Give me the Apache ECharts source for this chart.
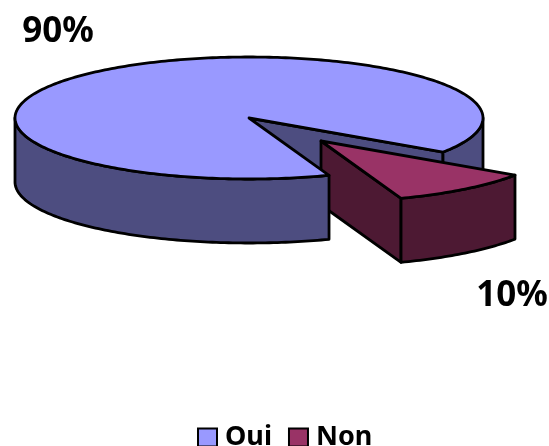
<!DOCTYPE html>
<html>
<head>
<meta charset="utf-8">
<script src="https://cdn.jsdelivr.net/npm/echarts@6/dist/echarts.min.js"></script>
<style>html,body{margin:0;padding:0;background:#fff}#c{width:549px;height:446px}</style>
</head>
<body>
<div id="c"></div>
<script>
// Survey answers, in percent
const categories = ['Oui', 'Non'];
const shares = [90, 10];

const topColors = ['#9999FF', '#993366'];
const sideColors = ['#4D4D80', '#4D1933'];

// Oblique projection of the disc
const cx = 249, cy = 118, rx = 234, ry = 61, depth = 64;
const firstAngle = 34;              // where the detached "Non" wedge starts, clockwise from east
const detach = [[0, 0], [72, 23]];  // offset of each wedge from the centre
const labelAt = [[58, 32], [512, 296]];
const labelFont = 'bold 35px "Noto Sans", sans-serif';

const total = shares.reduce((a, b) => a + b, 0);
const rad = d => d * Math.PI / 180;

function rim(a, off, down) {
  return [cx + off[0] + rx * Math.cos(rad(a)), cy + off[1] + down + ry * Math.sin(rad(a))];
}
function arc(from, to, off, down) {
  const pts = [];
  const n = Math.max(2, Math.ceil(Math.abs(to - from)));
  for (let i = 0; i <= n; i++) pts.push(rim(from + (to - from) * i / n, off, down));
  return pts;
}
function face(points, fill) {
  return {
    type: 'polygon',
    shape: { points },
    style: { fill, stroke: '#000', lineWidth: 2.8, lineJoin: 'round' }
  };
}
function sideFace(from, to, off, fill) {
  return face(arc(from, to, off, 0).concat(arc(to, from, off, depth)), fill);
}
function wall(a, off, fill) {
  const apex = [cx + off[0], cy + off[1]];
  const apexLow = [apex[0], apex[1] + depth];
  return face([apex, rim(a, off, 0), rim(a, off, depth), apexLow], fill);
}
function valueLabel(i, value) {
  return {
    type: 'text',
    style: {
      x: labelAt[i][0], y: labelAt[i][1], text: value + '%',
      font: labelFont, fill: '#000', align: 'center', verticalAlign: 'middle'
    }
  };
}

// "Non" occupies [firstAngle, nonEnd]; "Oui" the rest of the turn
const nonEnd = firstAngle + shares[1] / total * 360;

// Parts of the large wedge that sit behind the detached one
function renderOuiBack() {
  const off = detach[0];
  return {
    type: 'group',
    children: [
      wall(firstAngle, off, sideColors[0]),
      sideFace(0, firstAngle, off, sideColors[0])
    ]
  };
}
function renderNon(params, api) {
  const off = detach[1];
  const apex = [cx + off[0], cy + off[1]];
  return {
    type: 'group',
    children: [
      wall(nonEnd, off, sideColors[1]),
      sideFace(firstAngle, nonEnd, off, sideColors[1]),
      face([apex].concat(arc(firstAngle, nonEnd, off, 0)), topColors[1]),
      valueLabel(1, api.value(0))
    ]
  };
}
// Parts of the large wedge in front of it
function renderOuiFront(params, api) {
  const off = detach[0];
  const apex = [cx + off[0], cy + off[1]];
  return {
    type: 'group',
    children: [
      sideFace(nonEnd, 180, off, sideColors[0]),
      face([apex].concat(arc(nonEnd, firstAngle + 360, off, 0)), topColors[0]),
      valueLabel(0, api.value(0))
    ]
  };
}

const chart = echarts.init(document.getElementById('c'), null, { renderer: 'canvas' });
chart.setOption({
  animation: false,
  backgroundColor: '#fff',
  legend: {
    data: categories,
    left: 197,
    top: 424,
    padding: 0,
    icon: 'rect',
    itemWidth: 19,
    itemHeight: 18,
    itemGap: 16,
    textStyle: { color: '#000', fontSize: 27, fontWeight: 'bold', fontFamily: '"Noto Sans", sans-serif', padding: [0, 0, 0, 3] },
    itemStyle: { borderColor: '#000', borderWidth: 2 }
  },
  series: [
    {
      type: 'custom', name: categories[0], coordinateSystem: 'none',
      data: [[shares[0]]], renderItem: renderOuiBack, silent: true,
      itemStyle: { color: topColors[0] }
    },
    {
      type: 'custom', name: categories[1], coordinateSystem: 'none',
      data: [[shares[1]]], renderItem: renderNon, silent: true,
      itemStyle: { color: topColors[1] }
    },
    {
      type: 'custom', name: categories[0], coordinateSystem: 'none',
      data: [[shares[0]]], renderItem: renderOuiFront, silent: true,
      itemStyle: { color: topColors[0] }
    }
  ]
});
</script>
</body>
</html>
